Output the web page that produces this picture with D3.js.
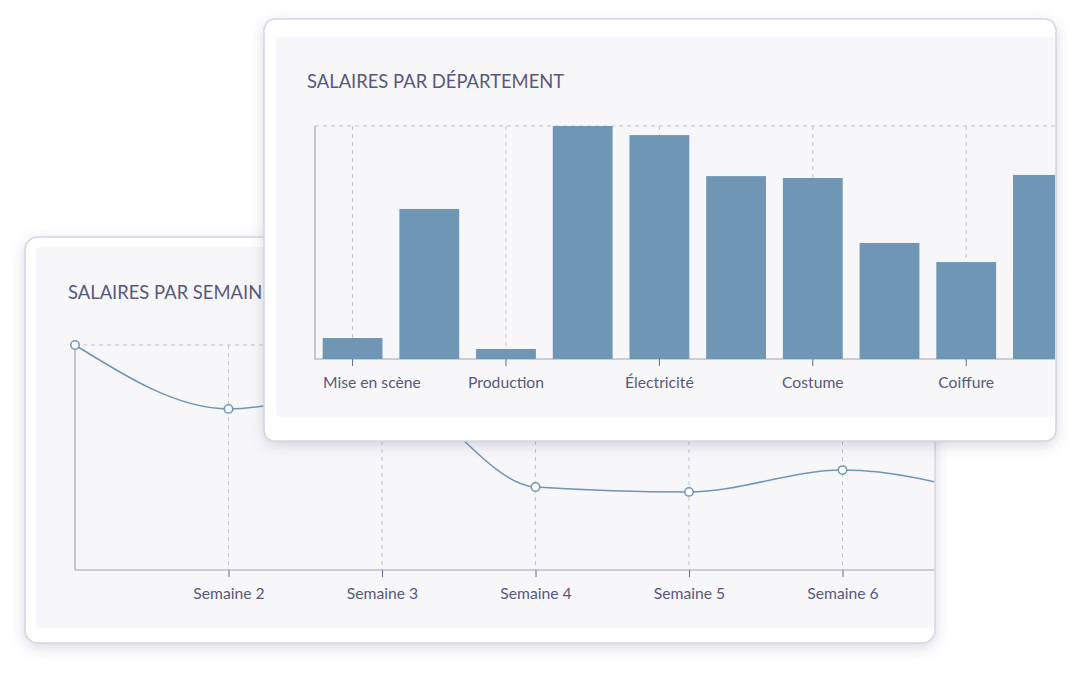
<!DOCTYPE html>
<html>
<head>
<meta charset="utf-8">
<script src="https://cdn.jsdelivr.net/npm/d3@7"></script>
<style>
  html, body { margin: 0; padding: 0; background: #ffffff; }
  svg { display: block; font-family: Lato, "Noto Sans", sans-serif; }
</style>
</head>
<body>
<svg id="chart" width="1080" height="673"></svg>
<script>
// ---------- DATA ----------
const weeks = ["Semaine 1", "Semaine 2", "Semaine 3", "Semaine 4", "Semaine 5", "Semaine 6", "Semaine 7"];
const weeklySalaries = [100, 71.6, 81.3, 36.9, 34.7, 44.4, 32.4];

const departments = ["Mise en scène", "Décors", "Production", "Réalisation", "Électricité",
                     "Machinerie", "Costume", "Maquillage", "Coiffure", "Son"];
const departmentSalaries = [9.0, 64.4, 4.3, 100, 96.1, 78.5, 77.7, 49.8, 41.6, 79.0];

const lineTitle = "SALAIRES PAR SEMAINE";
const barTitle = "SALAIRES PAR DÉPARTEMENT";

// ---------- STYLE ----------
const C = {
  text: "#58587a",
  axis: "#a2a2b8",
  tick: "#66668a",
  grid: "#c2c2d0",
  mark: "#6f96b4",
  panel: "#f7f7fa",
  border: "#d5d5e0"
};
const TITLE_SIZE = 18.4;
const LABEL_SIZE = 15.7;

const svg = d3.select("#chart");
const defs = svg.append("defs");
const f = defs.append("filter").attr("id", "shadow")
  .attr("x", "-10%").attr("y", "-10%").attr("width", "120%").attr("height", "125%");
f.append("feDropShadow").attr("dx", 0).attr("dy", 4).attr("stdDeviation", 7)
  .attr("flood-color", "#50507a").attr("flood-opacity", 0.24);

function card(id, box, inset) {
  const g = svg.append("g");
  g.append("rect").attr("x", box.x).attr("y", box.y).attr("width", box.w).attr("height", box.h)
    .attr("rx", box.r).attr("fill", "#fff").attr("filter", "url(#shadow)");
  defs.append("clipPath").attr("id", id).append("rect")
    .attr("x", box.x + 1).attr("y", box.y + 1).attr("width", box.w - 2).attr("height", box.h - 2)
    .attr("rx", box.r - 1);
  const inner = g.append("g").attr("clip-path", `url(#${id})`);
  inner.append("rect")
    .attr("x", box.x + inset.l).attr("y", box.y + inset.t)
    .attr("width", box.w).attr("height", box.h - inset.t - inset.b)
    .attr("rx", 4).attr("fill", C.panel);
  g.append("rect").attr("x", box.x).attr("y", box.y).attr("width", box.w).attr("height", box.h)
    .attr("rx", box.r).attr("fill", "none").attr("stroke", C.border).attr("stroke-width", 1.5);
  return inner;
}

// ---------- BACK CARD : LINE CHART ----------
{
  const g = card("clipBack", {x: 25, y: 237, w: 910, h: 406, r: 13}, {l: 11, t: 10, b: 15});
  const left = 75, top = 345, bottom = 570, right = 75 + 6 * 153.5;
  const x = d3.scalePoint().domain(weeks).range([left, right]);
  const y = d3.scaleLinear().domain([0, 100]).range([bottom, top]);

  g.append("text").attr("x", 68).attr("y", 299).attr("fill", C.text)
    .attr("font-size", TITLE_SIZE).text(lineTitle);

  // grid
  g.append("line").attr("x1", left).attr("x2", right + 200).attr("y1", y(100)).attr("y2", y(100))
    .attr("stroke", C.grid).attr("stroke-dasharray", "4,4");
  g.selectAll(".vg").data(weeks.slice(1)).join("line")
    .attr("x1", d => x(d)).attr("x2", d => x(d)).attr("y1", y(100)).attr("y2", bottom)
    .attr("stroke", C.grid).attr("stroke-dasharray", "4,4");

  // axes
  const xAxis = d3.axisBottom(x).tickSize(7).tickPadding(8);
  const ax = g.append("g").attr("transform", `translate(0,${bottom})`).call(xAxis);
  ax.select(".domain").remove();
  ax.selectAll(".tick line").attr("stroke", C.tick);
  ax.selectAll(".tick text").attr("fill", C.text).attr("font-size", LABEL_SIZE)
    .attr("font-family", "Lato, sans-serif").attr("dy", "0.9em");
  ax.selectAll(".tick").filter((d, i) => i === 0).remove();
  g.append("line").attr("x1", left).attr("x2", right + 200).attr("y1", bottom).attr("y2", bottom)
    .attr("stroke", C.axis).attr("stroke-width", 1.2);
  g.append("line").attr("x1", left).attr("x2", left).attr("y1", top).attr("y2", bottom)
    .attr("stroke", C.axis).attr("stroke-width", 1.2);

  const line = d3.line().x((d, i) => x(weeks[i])).y(d => y(d)).curve(d3.curveMonotoneX);
  g.append("path").datum(weeklySalaries).attr("d", line)
    .attr("fill", "none").attr("stroke", C.mark).attr("stroke-width", 1.5);
  g.selectAll(".pt").data(weeklySalaries).join("circle")
    .attr("cx", (d, i) => x(weeks[i])).attr("cy", d => y(d)).attr("r", 4.2)
    .attr("fill", "#fff").attr("stroke", C.mark).attr("stroke-width", 1.5);
}

// ---------- FRONT CARD : BAR CHART ----------
{
  const g = card("clipFront", {x: 264, y: 19, w: 792, h: 422, r: 11}, {l: 12, t: 18, b: 24});
  const left = 315, top = 126, bottom = 359;
  const x = d3.scaleBand().domain(departments).range([left, left + 765.5])
    .paddingInner(0.22).paddingOuter(0.1);
  const y = d3.scaleLinear().domain([0, 100]).range([bottom, top]);

  g.append("text").attr("x", 307).attr("y", 88).attr("fill", C.text)
    .attr("font-size", TITLE_SIZE).text(barTitle);

  const shown = departments.filter((d, i) => i % 2 === 0);
  const cx = d => x(d) + x.bandwidth() / 2;

  g.append("line").attr("x1", left).attr("x2", left + 900).attr("y1", top).attr("y2", top)
    .attr("stroke", C.grid).attr("stroke-dasharray", "4,4");
  g.selectAll(".vg").data(shown).join("line")
    .attr("x1", cx).attr("x2", cx).attr("y1", top).attr("y2", bottom)
    .attr("stroke", C.grid).attr("stroke-dasharray", "4,4");

  g.append("line").attr("x1", left).attr("x2", left + 900).attr("y1", bottom).attr("y2", bottom)
    .attr("stroke", C.axis).attr("stroke-width", 1.2);
  g.append("line").attr("x1", left).attr("x2", left).attr("y1", top).attr("y2", bottom)
    .attr("stroke", C.axis).attr("stroke-width", 1.2);

  g.selectAll(".bar").data(departmentSalaries).join("rect")
    .attr("x", (d, i) => x(departments[i])).attr("width", x.bandwidth())
    .attr("y", d => y(d)).attr("height", d => bottom - y(d))
    .attr("fill", C.mark);

  const xAxis = d3.axisBottom(x).tickValues(shown).tickSize(7).tickPadding(8);
  const ax = g.append("g").attr("transform", `translate(0,${bottom})`).call(xAxis);
  ax.select(".domain").remove();
  ax.selectAll(".tick line").attr("stroke", C.tick);
  ax.selectAll(".tick text").attr("fill", C.text).attr("font-size", LABEL_SIZE)
    .attr("font-family", "Lato, sans-serif").attr("dy", "0.9em");
  // keep the first label inside the plot area
  ax.selectAll(".tick text").each(function(d, i) {
    const w = this.getComputedTextLength();
    const c = cx(d);
    if (c - w / 2 < left + 8) {
      d3.select(this).attr("x", (left + 8) - c + w / 2);
    }
  });
}
</script>
</body>
</html>
